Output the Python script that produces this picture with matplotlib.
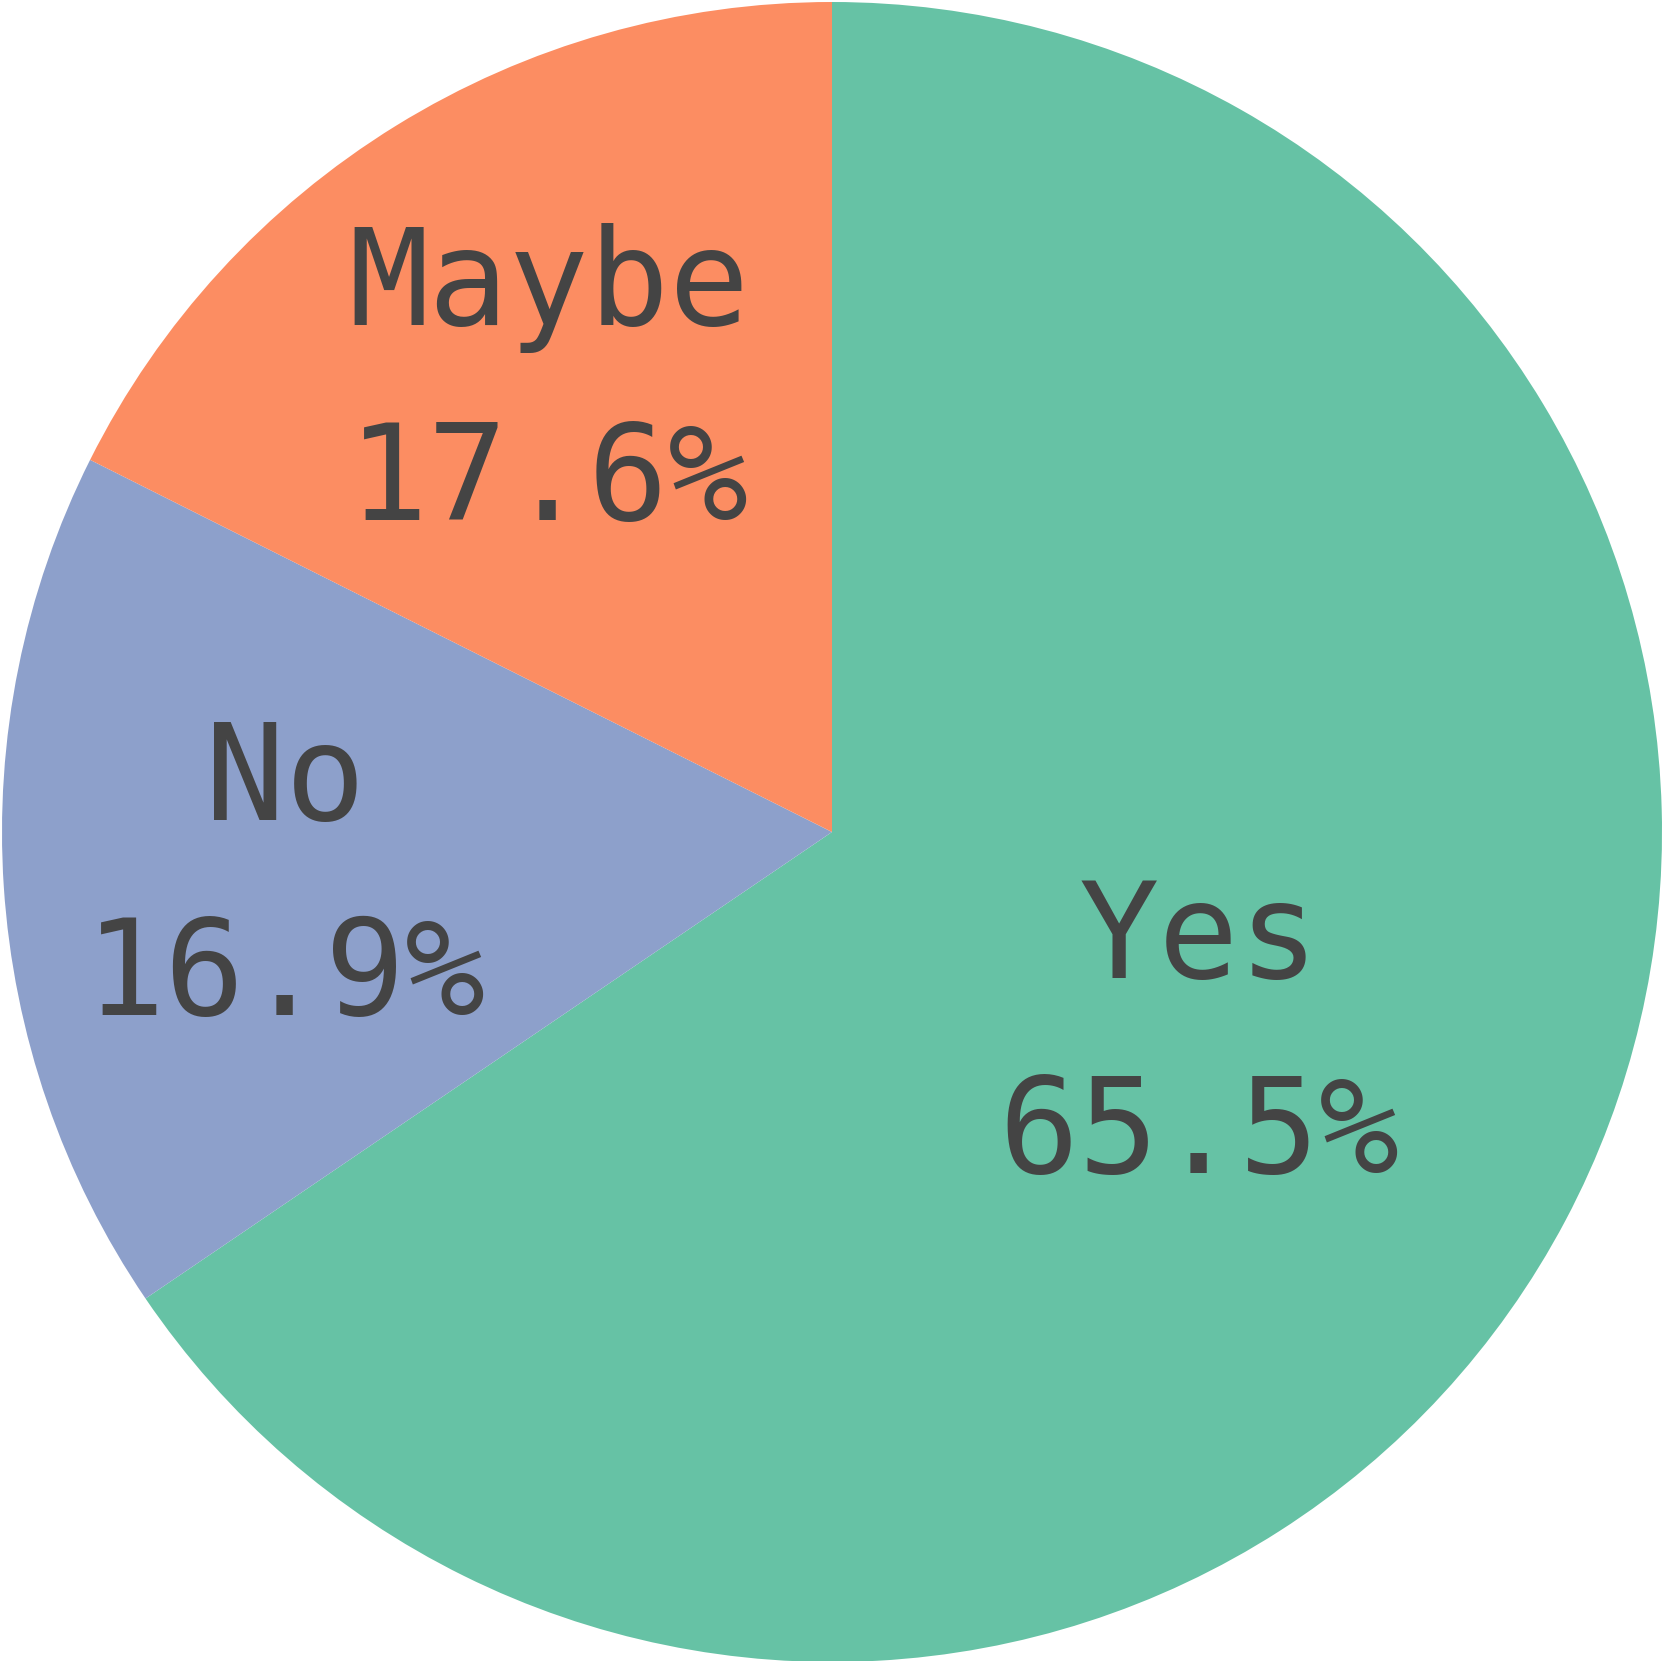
import numpy as np
import matplotlib
matplotlib.use("Agg")
import matplotlib.pyplot as plt

# answers, clockwise from 12 o'clock
labels = ['Yes', 'No', 'Maybe']
shares = [65.5, 16.9, 17.6]
colors = ['#66c2a5', '#8da0cb', '#fc8d62']
# how far out (fraction of radius) each label sits
label_dist = [0.50, 0.66, 0.65]

fig = plt.figure(figsize=(16.62, 16.61), dpi=100)
ax = fig.add_axes([0, 0, 1, 1])

wedges, _ = ax.pie(shares, colors=colors, startangle=90, counterclock=False,
                   radius=1.0, wedgeprops=dict(linewidth=0))

for w, lab, pct, d in zip(wedges, labels, shares, label_dist):
    mid = np.deg2rad((w.theta1 + w.theta2) / 2)
    x = d * np.cos(mid)
    y = d * np.sin(mid)
    ax.text(x, y + 0.058, lab, ha='center', va='baseline', fontsize=96,
            family='DejaVu Sans Mono', color='#444444')
    ax.text(x, y - 0.177, f'{pct:.1f}%', ha='center', va='baseline', fontsize=96,
            family='DejaVu Sans Mono', color='#444444')

ax.set_xlim(-832 / 830, 830 / 830)
ax.set_ylim(-829 / 830, 832 / 830)
ax.set_aspect('auto')
ax.axis('off')

fig.savefig('out.png', dpi=100)
